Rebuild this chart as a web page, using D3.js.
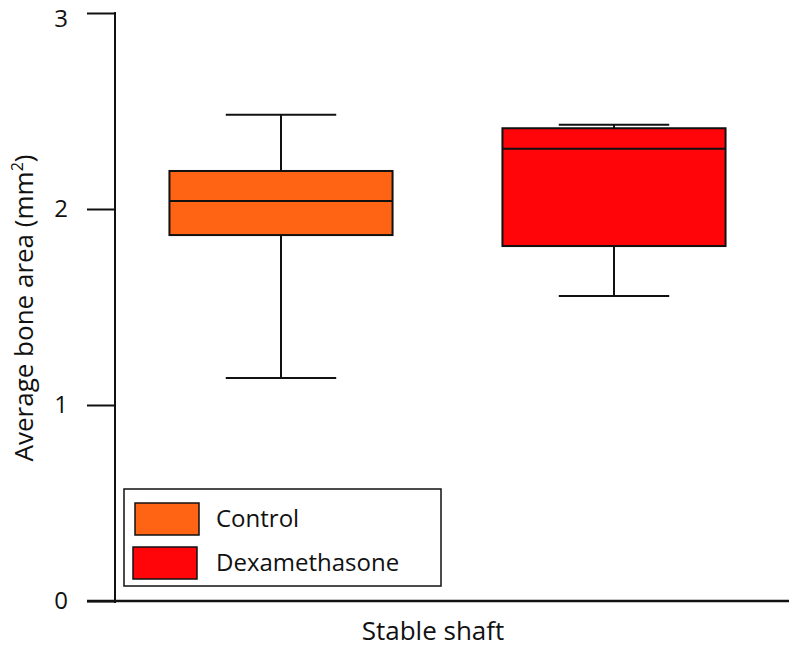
<!DOCTYPE html>
<html><head><meta charset="utf-8">
<script src="https://cdn.jsdelivr.net/npm/d3@7"></script>
<style>body{margin:0;background:#fff}svg{display:block}text{font-family:"Open Sans","Noto Sans",sans-serif;fill:#111}</style>
</head><body>
<svg id="c" width="791" height="648"></svg>
<script>
const series = ["Control", "Dexamethasone"];
const colors = ["#FF6414", "#FF050A"];
const whiskerLow = [1.138, 1.556];
const q1 = [1.867, 1.811];
const median = [2.041, 2.308];
const q3 = [2.194, 2.412];
const whiskerHigh = [2.481, 2.430];
const yTicks = [0, 1, 2, 3];
const xLabel = "Stable shaft";

const svg = d3.select("#c");
const y = d3.scaleLinear().domain([0, 3]).range([601, 13]);
const x = d3.scaleBand().domain(series).range([115, 780]).paddingInner(0.33).paddingOuter(0.1635);
const capW = x.bandwidth() * 0.495;

// axes
const yAxis = svg.append("g").attr("transform", "translate(115,0)")
  .call(d3.axisLeft(y).tickValues(yTicks).tickFormat(d3.format("d")).tickSize(28).tickPadding(19));
yAxis.select(".domain").remove();
yAxis.selectAll(".tick line").attr("stroke", "#111").attr("stroke-width", 2);
yAxis.selectAll(".tick text").style("font-size", "24px").attr("fill", "#111")
  .attr("dy", d => d === 3 ? "0.58em" : "0.3em");
svg.append("line").attr("x1", 115).attr("x2", 115).attr("y1", y(3) - 1).attr("y2", y(0) + 2)
  .attr("stroke", "#111").attr("stroke-width", 2);
svg.append("line").attr("x1", 87).attr("x2", 789).attr("y1", y(0)).attr("y2", y(0))
  .attr("stroke", "#111").attr("stroke-width", 2.5);

// boxes
const g = svg.append("g");
series.forEach((s, i) => {
  const cx = x(s) + x.bandwidth() / 2;
  const gg = g.append("g");
  gg.append("line").attr("x1", cx).attr("x2", cx).attr("y1", y(whiskerHigh[i])).attr("y2", y(q3[i]))
    .attr("stroke", "#111").attr("stroke-width", 2);
  gg.append("line").attr("x1", cx).attr("x2", cx).attr("y1", y(q1[i])).attr("y2", y(whiskerLow[i]))
    .attr("stroke", "#111").attr("stroke-width", 2);
  gg.append("line").attr("x1", cx - capW / 2).attr("x2", cx + capW / 2).attr("y1", y(whiskerHigh[i])).attr("y2", y(whiskerHigh[i]))
    .attr("stroke", "#111").attr("stroke-width", 2);
  gg.append("line").attr("x1", cx - capW / 2).attr("x2", cx + capW / 2).attr("y1", y(whiskerLow[i])).attr("y2", y(whiskerLow[i]))
    .attr("stroke", "#111").attr("stroke-width", 2);
  gg.append("rect").attr("x", x(s)).attr("width", x.bandwidth())
    .attr("y", y(q3[i])).attr("height", y(q1[i]) - y(q3[i]))
    .attr("fill", colors[i]).attr("stroke", "#111").attr("stroke-width", 2);
  gg.append("line").attr("x1", x(s)).attr("x2", x(s) + x.bandwidth()).attr("y1", y(median[i])).attr("y2", y(median[i]))
    .attr("stroke", "#111").attr("stroke-width", 2);
});

// axis titles
svg.append("text").attr("transform", "translate(33,308) rotate(-90)").attr("text-anchor", "middle")
  .style("font-size", "26px").html('Average bone area (mm<tspan dy="-10" style="font-size:16px">2</tspan><tspan dy="10">)</tspan>');
svg.append("text").attr("x", 433).attr("y", 640).attr("text-anchor", "middle").style("font-size", "26px").text(xLabel);

// legend
const lg = svg.append("g");
lg.append("rect").attr("x", 124).attr("y", 489).attr("width", 317).attr("height", 97)
  .attr("fill", "#fff").attr("stroke", "#111").attr("stroke-width", 1.5);
series.forEach((s, i) => {
  const yy = 503 + i * 44;
  lg.append("rect").attr("x", 135 - i * 2).attr("y", yy).attr("width", 64).attr("height", 32)
    .attr("fill", colors[i]).attr("stroke", "#111").attr("stroke-width", 1.5);
  lg.append("text").attr("x", 216).attr("y", yy + 24).style("font-size", "24px").text(s);
});
</script>
</body></html>
